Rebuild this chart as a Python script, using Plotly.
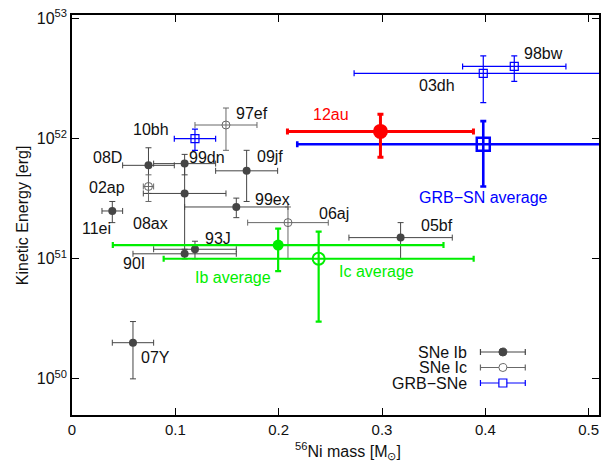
import plotly.graph_objects as go
import numpy as np

# ---------------- data ----------------
# SNe Ib (filled dark circles)
ib_names = ["08D", "99dn", "09jf", "08ax", "99ex", "11ei", "93J", "90I", "07Y", "05bf"]
ib_ni = [0.074, 0.109, 0.169, 0.109, 0.159, 0.039, 0.119, 0.109, 0.059, 0.318]
ib_ni_err = [0.025, 0.03, 0.03, 0.04, 0.05, 0.01, 0.04, 0.05, 0.02, 0.05]
ib_ek = [6.0e51, 6.2e51, 5.4e51, 3.5e51, 2.7e51, 2.5e51, 1.2e51, 1.1e51, 2.0e50, 1.5e51]
ib_ek_up = [2.4e51, 1.2e51, 2.6e51, 2.5e51, 0.5e51, 0.5e51, 0.2e51, 0.1e51, 1.0e50, 0.5e51]
ib_ek_dn = [2.5e51, 1.2e51, 2.4e51, 2.5e51, 0.5e51, 0.5e51, 0.2e51, 0.1e51, 1.0e50, 0.5e51]

# SNe Ic (open grey circles)
ic_names = ["97ef", "02ap", "06aj"]
ic_ni = [0.149, 0.074, 0.209]
ic_ni_err = [0.03, 0.005, 0.039]
ic_ek = [1.3e52, 4.0e51, 2.0e51]
ic_ek_up = [0.5e52, 1.0e51, 0.7e51]
ic_ek_dn = [0.5e52, 1.0e51, 1.0e51]

# GRB-SNe (open blue squares)
grb_names = ["10bh", "03dh", "98bw"]
grb_ni = [0.119, 0.398, 0.428]
grb_ni_err = [0.02, 0.125, 0.05]
grb_ek = [1.0e52, 3.5e52, 4.0e52]
grb_ek_up = [0.2e52, 1.4e52, 0.9e52]
grb_ek_dn = [0.2e52, 1.5e52, 1.0e52]

# averages and SN 2012au
ib_avg = dict(ni=0.1995, ni_err=0.16, ek=1.3e51, up=0.48e51, dn=0.51e51)
ic_avg = dict(ni=0.2387, ni_err=0.15, ek=1.0e51, up=0.68e51, dn=0.7e51)
grb_avg = dict(ni=0.398, ni_err=0.18, ek=9.0e51, up=5.0e51, dn=5.0e51)
sn12au = dict(ni=0.2985, ni_err=0.09, ek=1.15e52, up=0.45e52, dn=0.45e52)

x_ticks = [0, 0.1, 0.2, 0.3, 0.4, 0.5]
x_ticklabels = ["0", "0.1", "0.2", "0.3", "0.4", "0.5"]
y_ticks = [1e50, 1e51, 1e52, 1e53]
y_ticklabels = ["10<sup>50</sup>", "10<sup>51</sup>", "10<sup>52</sup>", "10<sup>53</sup>"]

# ---------------- style ----------------
FONT = "Liberation Sans, Arial, sans-serif"
IB_COL = "#454545"
IC_COL = "#686868"
BLUE = "#0000ff"
GREEN = "#00ee00"
RED = "#ff0000"

# label offsets in pixels (dx, dy up positive)
label_offsets = {
    "08D": (-41, 8), "99dn": (22, 6), "09jf": (23, 14), "08ax": (-34, -30),
    "99ex": (36, 7), "11ei": (-16, -18), "93J": (23, 11), "90I": (-51, -10),
    "07Y": (23, -15), "05bf": (36, 12),
    "97ef": (26, 12), "02ap": (-41, -1), "06aj": (46, 9),
    "10bh": (-44, 9), "03dh": (-46, -12), "98bw": (29, 13),
}

W, H = 605, 461
L, R, T, B = 72, 4, 15, 46
pw, ph = W - L - R, H - T - B

fig = go.Figure()


def add_group(ni, ni_err, ek, up, dn, color, marker, size, mline, ethick, ewidth):
    fig.add_trace(go.Scatter(
        x=ni, y=ek, mode="markers",
        marker=dict(symbol=marker, size=size, color=color,
                    line=dict(color=color, width=mline)),
        error_x=dict(type="data", array=ni_err, symmetric=True,
                     color=color, thickness=ethick, width=ewidth),
        error_y=dict(type="data", array=up, arrayminus=dn, symmetric=False,
                     color=color, thickness=ethick, width=ewidth),
        showlegend=False, hoverinfo="skip", cliponaxis=True,
    ))


add_group(ib_ni, ib_ni_err, ib_ek, ib_ek_up, ib_ek_dn, IB_COL, "circle", 8, 0, 1, 3)
add_group(ic_ni, ic_ni_err, ic_ek, ic_ek_up, ic_ek_dn, IC_COL, "circle-open", 8, 1, 1, 3)
add_group(grb_ni, grb_ni_err, grb_ek, grb_ek_up, grb_ek_dn, BLUE, "square-open", 8, 1.2, 1.2, 3)

for d, mk, sz, mlw in [(ib_avg, "circle", 11, 0), (ic_avg, "circle-open", 12, 2)]:
    add_group([d["ni"]], [d["ni_err"]], [d["ek"]], [d["up"]], [d["dn"]], GREEN, mk, sz, mlw, 2.2, 3)
add_group([grb_avg["ni"]], [grb_avg["ni_err"]], [grb_avg["ek"]], [grb_avg["up"]], [grb_avg["dn"]],
          BLUE, "square-open", 13, 2.5, 2.6, 3)
add_group([sn12au["ni"]], [sn12au["ni_err"]], [sn12au["ek"]], [sn12au["up"]], [sn12au["dn"]],
          RED, "circle", 15, 0, 3, 3)

annotations = []


def label(x, y, text, dx, dy, color="#111111"):
    annotations.append(dict(x=x, y=np.log10(y), xref="x", yref="y", text=text,
                            xanchor="center", yanchor="middle",
                            showarrow=False, xshift=dx, yshift=dy,
                            font=dict(family=FONT, size=16, color=color)))


for names, xs, ys in [(ib_names, ib_ni, ib_ek), (ic_names, ic_ni, ic_ek), (grb_names, grb_ni, grb_ek)]:
    for n, x, y in zip(names, xs, ys):
        dx, dy = label_offsets[n]
        label(x, y, n, dx, dy)

label(ib_avg["ni"], ib_avg["ek"], "Ib average", -45, -32, GREEN)
label(ic_avg["ni"], ic_avg["ek"], "Ic average", 58, -13, GREEN)
label(grb_avg["ni"], grb_avg["ek"], "GRB\u2212SN average", 0, -53, BLUE)
label(sn12au["ni"], sn12au["ek"], "12au", -49, 17, RED)


def px(xp):
    return (xp - L) / pw


def py(yp):
    return (T + ph - yp) / ph


# axis titles
annotations.append(dict(x=px(349), y=py(451), xref="paper", yref="paper",
                        xanchor="center", yanchor="middle",
                        text="<sup>56</sup>Ni mass [M<sub>\u2299</sub>]", showarrow=False,
                        font=dict(family=FONT, size=16, color="#111111")))
annotations.append(dict(x=px(22), y=py(215), xref="paper", yref="paper",
                        xanchor="center", yanchor="middle",
                        text="Kinetic Energy [erg]", textangle=-90, showarrow=False,
                        font=dict(family=FONT, size=16, color="#111111")))

# legend (gnuplot style: text, then sample)
legend_rows = [("SNe Ib", IB_COL, "circle"), ("SNe Ic", IC_COL, "circle-open"), ("GRB\u2212SNe", BLUE, "square")]
shapes = []

for i, (txt, col, mk) in enumerate(legend_rows):
    yy = 352 + i * 15.5
    annotations.append(dict(x=px(471), y=py(yy), xref="paper", yref="paper",
                            xanchor="right", yanchor="middle",
                            text=txt, showarrow=False,
                            font=dict(family=FONT, size=16, color="#111111")))
    shapes.append(dict(type="line", xref="paper", yref="paper", x0=px(482), x1=px(527),
                       y0=py(yy), y1=py(yy), line=dict(color=col, width=1.2)))
    for xc in (482, 527):
        shapes.append(dict(type="line", xref="paper", yref="paper", x0=px(xc), x1=px(xc),
                           y0=py(yy - 3), y1=py(yy + 3), line=dict(color=col, width=1.2)))
    if mk == "square":
        shapes.append(dict(type="rect", xref="paper", yref="paper", x0=px(500.5), x1=px(508.5),
                           y0=py(yy - 4), y1=py(yy + 4), line=dict(color=col, width=1.2),
                           fillcolor="white"))
    else:
        shapes.append(dict(type="circle", xref="paper", yref="paper", x0=px(500.5), x1=px(508.5),
                           y0=py(yy - 4), y1=py(yy + 4), line=dict(color=col, width=1),
                           fillcolor=col if mk == "circle" else "white"))

axis_common = dict(showline=True, linecolor="black", linewidth=1.5, mirror="allticks",
                   ticks="inside", ticklen=7, tickcolor="black", tickwidth=1.2,
                   showgrid=False, zeroline=False,
                   tickfont=dict(family=FONT, size=15, color="#111111"))

fig.update_layout(
    width=W, height=H,
    margin=dict(l=L, r=R, t=T, b=B),
    paper_bgcolor="white", plot_bgcolor="white",
    xaxis=dict(range=[0, 0.51], tickvals=x_ticks, ticktext=x_ticklabels, **axis_common),
    yaxis=dict(type="log", range=[np.log10(5e49), 53.03], tickvals=y_ticks,
               ticktext=y_ticklabels, **{**axis_common, "tickfont": dict(family=FONT, size=16, color="#111111")}),
    annotations=annotations, shapes=shapes, showlegend=False,
)

fig.write_html("out.html")
